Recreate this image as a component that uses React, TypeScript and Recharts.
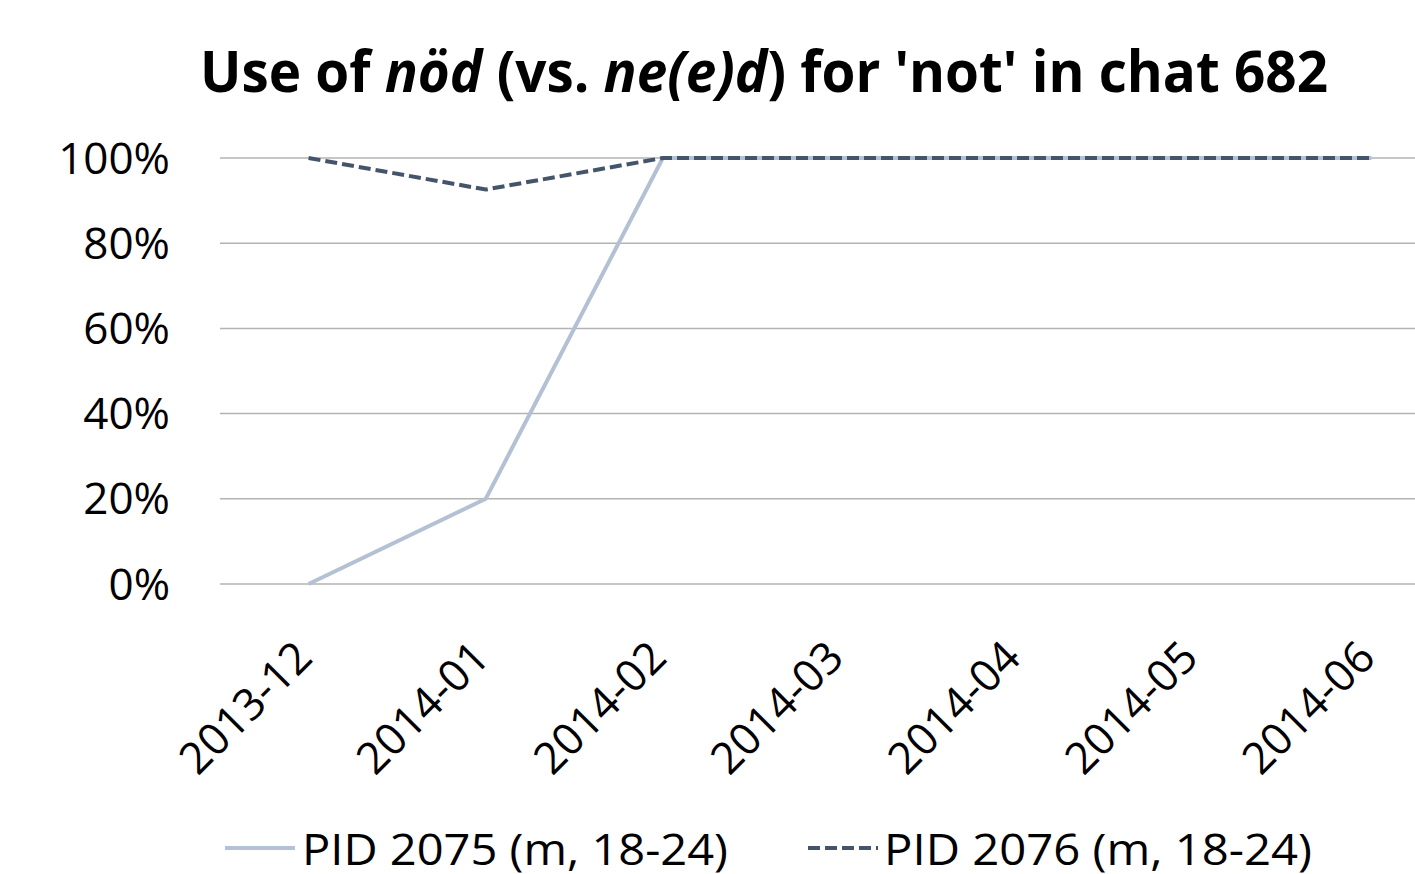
import React from "react";
import { CartesianGrid, Line, LineChart, XAxis, YAxis } from "recharts";

const months = ["2013-12", "2014-01", "2014-02", "2014-03", "2014-04", "2014-05", "2014-06"];
const pid2075 = [0, 20, 100, 100, 100, 100, 100];
const pid2076 = [100, 92.6, 100, 100, 100, 100, 100];
const yTicks = [0, 20, 40, 60, 80, 100];
const seriesNames = ["PID 2075 (m, 18-24)", "PID 2076 (m, 18-24)"];

const data = months.map((month, i) => ({ month, a: pid2075[i], b: pid2076[i] }));

const FONT = "'Open Sans', 'Liberation Sans', sans-serif";
const LIGHT = "#b4c0d3";
const DARK = "#44546a";

function MonthTick({ x, y, payload }: any) {
  return (
    <g transform={`translate(${x - 6},${y + 64})`}>
      <text
        transform="rotate(-45)"
        textAnchor="end"
        dominantBaseline="central"
        fontSize={44}
        fontFamily={FONT}
        fill="#000"
      >
        {payload.value}
      </text>
    </g>
  );
}

export default function App() {
  return (
    <div style={{ position: "absolute", left: 0, top: 0, width: 1415, height: 874, overflow: "hidden", background: "#fff" }}>
      <LineChart width={1460} height={874} data={data} margin={{ top: 158, right: 0, left: 0, bottom: 0 }}>
        <CartesianGrid stroke="#b3b3b3" strokeWidth={1.5} vertical={false} />
        <XAxis
          dataKey="month"
          scale="band"
          interval={0}
          height={290}
          axisLine={false}
          tickLine={false}
          tickSize={0}
          tickMargin={0}
          tick={<MonthTick />}
        />
        <YAxis
          width={220}
          domain={[0, 100]}
          ticks={yTicks}
          tickFormatter={(v) => `${v}%`}
          axisLine={false}
          tickLine={false}
          tickSize={0}
          tickMargin={50}
          tick={{ fontSize: 44, fontFamily: FONT, fill: "#000" }}
        />
        <Line dataKey="a" name={seriesNames[0]} stroke={LIGHT} strokeWidth={4} dot={false} isAnimationActive={false} />
        <Line dataKey="b" name={seriesNames[1]} stroke={DARK} strokeWidth={4} strokeDasharray="12 5" dot={false} isAnimationActive={false} />
      </LineChart>
      <svg width={1415} height={874} style={{ position: "absolute", left: 0, top: 0, pointerEvents: "none" }}>
        <text x={764} y={92} textAnchor="middle" fontSize={58} fontWeight="bold" fontFamily={FONT} fill="#000" textLength={1128} lengthAdjust="spacingAndGlyphs">
          Use of <tspan fontStyle="italic">nöd</tspan> (vs. <tspan fontStyle="italic">ne(e)d</tspan>) for 'not' in chat 682
        </text>
        <line x1={225} x2={295} y1={848} y2={848} stroke={LIGHT} strokeWidth={4} />
        <text x={302} y={865} fontSize={44} fontFamily={FONT} fill="#000" textLength={426} lengthAdjust="spacingAndGlyphs">
          {seriesNames[0]}
        </text>
        <line x1={808} x2={878} y1={848} y2={848} stroke={DARK} strokeWidth={4} strokeDasharray="12 5" />
        <text x={884} y={865} fontSize={44} fontFamily={FONT} fill="#000" textLength={428} lengthAdjust="spacingAndGlyphs">
          {seriesNames[1]}
        </text>
      </svg>
    </div>
  );
}
